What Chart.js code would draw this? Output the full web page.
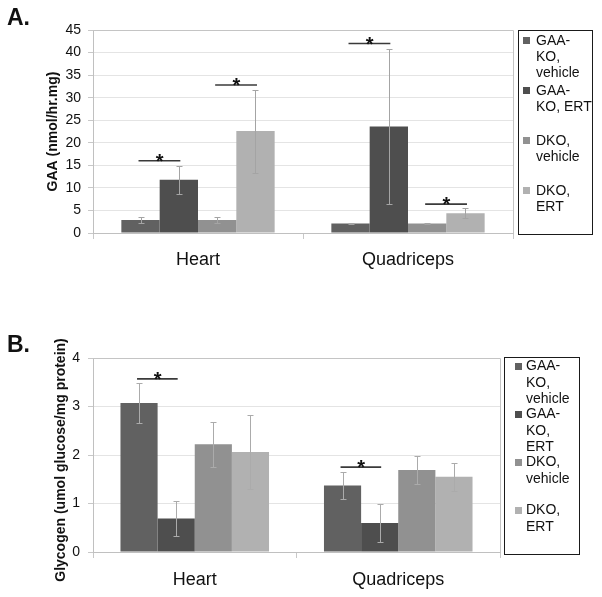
<!DOCTYPE html>
<html>
<head>
<meta charset="utf-8">
<script src="https://cdn.jsdelivr.net/npm/chart.js@4.4.1/dist/chart.umd.min.js"></script>
<style>
html,body{margin:0;padding:0;background:#fff;}
#wrap{position:relative;width:602px;height:597px;overflow:hidden;background:#fff;}
#cA{position:absolute;left:0;top:0;width:602px;height:300px;}
#cB{position:absolute;left:0;top:300px;width:602px;height:297px;}
.pl{position:absolute;font:bold 23px "Liberation Sans",Arial,sans-serif;line-height:1;color:#111;}
</style>
</head>
<body>
<div id="wrap">
<canvas id="cA" width="602" height="300"></canvas>
<canvas id="cB" width="602" height="297"></canvas>
<div class="pl" style="left:7px;top:6px;">A.</div>
<div class="pl" style="left:7px;top:333px;">B.</div>
</div>
<script>
// ---------- shared ----------
const categories = ['Heart', 'Quadriceps'];
const seriesNames = ['GAA-KO, vehicle', 'GAA-KO, ERT', 'DKO, vehicle', 'DKO, ERT'];
const seriesColors = ['#616161', '#4e4e4e', '#919191', '#b1b1b1'];

// ---------- Panel A: GAA activity ----------
const gaaKoVehicleA = [2.9, 2.1];
const gaaKoErtA     = [11.8, 23.6];
const dkoVehicleA   = [2.9, 2.1];
const dkoErtA       = [22.6, 4.4];
const errGaaKoVehicleA = [0.6, 0.2];
const errGaaKoErtA     = [3.1, 17.2];
const errDkoVehicleA   = [0.6, 0.2];
const errDkoErtA       = [9.2, 1.1];
const yMinA = 0, yMaxA = 45, yStepA = 5;
const yTitleA = 'GAA (nmol/hr.mg)';
// significance bars: category index, from series, to series, height
const sigCatA  = [0, 0, 1, 1];
const sigFromA = [0, 2, 0, 2];
const sigToA   = [1, 3, 1, 3];
const sigYA    = [16, 32.8, 42, 6.4];

// ---------- Panel B: Glycogen ----------
const gaaKoVehicleB = [3.07, 1.37];
const gaaKoErtB     = [0.69, 0.60];
const dkoVehicleB   = [2.22, 1.69];
const dkoErtB       = [2.06, 1.55];
const errGaaKoVehicleB = [0.42, 0.28];
const errGaaKoErtB     = [0.37, 0.40];
const errDkoVehicleB   = [0.46, 0.29];
const errDkoErtB       = [0.76, 0.29];
const yMinB = 0, yMaxB = 4, yStepB = 1;
const yTitleB = 'Glycogen (umol glucose/mg protein)';
const sigCatB  = [0, 1];
const sigFromB = [0, 0];
const sigToB   = [1, 1];
const sigYB    = [3.57, 1.75];

const FONT = '"Liberation Sans", Arial, Helvetica, sans-serif';
Chart.defaults.font.family = FONT;

function wrapText(ctx, text, maxW) {
  const tokens = text.split(/(?<=-)|(?= )/);
  const lines = [];
  let line = '';
  tokens.forEach(tok => {
    const test = line + tok;
    if (line && ctx.measureText(test.trim()).width > maxW) {
      lines.push(line.trim());
      line = tok.trimStart();
    } else {
      line = test;
    }
  });
  if (line) lines.push(line.trim());
  return lines;
}

const annot = {
  id: 'annot',
  afterDatasetsDraw(chart, args, o) {
    const ctx = chart.ctx, y = chart.scales.y, ca = chart.chartArea;
    ctx.save();
    // plot frame (top & right)
    ctx.strokeStyle = '#c4c4c4';
    ctx.lineWidth = 1;
    ctx.beginPath();
    ctx.moveTo(ca.left, Math.round(ca.top) + 0.5);
    ctx.lineTo(Math.round(ca.right) + 0.5, Math.round(ca.top) + 0.5);
    ctx.lineTo(Math.round(ca.right) + 0.5, ca.bottom);
    ctx.stroke();

    // error bars
    ctx.strokeStyle = o.errColor;
    ctx.lineWidth = 1;
    chart.data.datasets.forEach((ds, di) => {
      const meta = chart.getDatasetMeta(di);
      meta.data.forEach((bar, i) => {
        const v = ds.data[i], e = o.errors[di][i];
        const yt = Math.round(y.getPixelForValue(v + e)) + 0.5;
        const yb = Math.round(y.getPixelForValue(v - e)) + 0.5;
        const x = Math.round(bar.x) + 0.5;
        ctx.beginPath();
        ctx.moveTo(x, yt); ctx.lineTo(x, yb);
        ctx.moveTo(x - 3, yt); ctx.lineTo(x + 3, yt);
        ctx.moveTo(x - 3, yb); ctx.lineTo(x + 3, yb);
        ctx.stroke();
      });
    });

    // significance lines + stars
    o.sigCat.forEach((c, k) => {
      const b1 = chart.getDatasetMeta(o.sigFrom[k]).data[c];
      const b2 = chart.getDatasetMeta(o.sigTo[k]).data[c];
      const yy = y.getPixelForValue(o.sigY[k]);
      ctx.strokeStyle = '#3a3a3a';
      ctx.lineWidth = 1.6;
      ctx.beginPath();
      ctx.moveTo(b1.x - 2, yy); ctx.lineTo(b2.x + 1.5, yy);
      ctx.stroke();
      ctx.fillStyle = '#111';
      ctx.font = 'bold 20px ' + FONT;
      ctx.textAlign = 'center';
      ctx.textBaseline = 'alphabetic';
      ctx.fillText('*', (b1.x + b2.x) / 2, yy + 7);
    });

    // custom vertical axis title (if requested)
    if (o.yTitle) {
      ctx.save();
      ctx.translate(o.yTitle.x, o.yTitle.y);
      ctx.rotate(-Math.PI / 2);
      ctx.font = 'bold 14px ' + FONT;
      ctx.fillStyle = '#111';
      ctx.textAlign = 'center';
      ctx.textBaseline = 'middle';
      ctx.fillText(o.yTitle.text, 0, 0);
      ctx.restore();
    }

    // legend box
    const L = o.legend;
    const bl = Math.round(ca.right) + L.gap;
    const bt = Math.round(ca.top) + L.topAdj;
    const bb = Math.round(ca.bottom) + L.bottomAdj;
    ctx.strokeStyle = '#1a1a1a';
    ctx.lineWidth = 1;
    ctx.strokeRect(bl + 0.5, bt + 0.5, L.width, bb - bt);
    ctx.font = '14px ' + FONT;
    ctx.textAlign = 'left';
    ctx.textBaseline = 'middle';
    chart.data.datasets.forEach((ds, di) => {
      const lines = wrapText(ctx, ds.label, L.maxW);
      const y0 = ca.top + L.first + di * L.step;
      ctx.fillStyle = ds.backgroundColor;
      ctx.fillRect(bl + L.swatch, Math.round(y0 - 3.5), 7, 7);
      ctx.fillStyle = '#111';
      lines.forEach((ln, j) => ctx.fillText(ln, bl + L.text, y0 + j * L.lh));
    });
    ctx.restore();
  }
};

function makeDatasets(arrs) {
  return arrs.map((d, i) => ({
    label: seriesNames[i],
    data: d,
    backgroundColor: seriesColors[i],
    borderWidth: 0,
    categoryPercentage: 0.73,
    barPercentage: 1.0
  }));
}

function baseScales(cfg) {
  return {
    x: {
      grid: { display: true, drawOnChartArea: false, tickLength: 6, tickColor: '#c8c8c8', offset: true },
      border: { color: '#c0c0c0' },
      ticks: { padding: cfg.xPad, color: '#111', font: { size: 18 } },
      afterFit(s) { s.height = cfg.xHeight; }
    },
    y: {
      min: cfg.min, max: cfg.max,
      ticks: { stepSize: cfg.step, padding: cfg.yPad, color: '#111', font: { size: 14 } },
      grid: { color: '#e4e4e4', tickLength: 5, tickColor: '#c8c8c8' },
      border: { color: '#c0c0c0' },
      title: cfg.title ? {
        display: true, text: cfg.title, color: '#111',
        font: { size: 14, weight: 'bold' }, padding: { top: cfg.titlePad, bottom: 0 }
      } : { display: false },
      afterFit(s) { s.width = 93; }
    }
  };
}

new Chart(document.getElementById('cA'), {
  type: 'bar',
  data: {
    labels: categories,
    datasets: makeDatasets([gaaKoVehicleA, gaaKoErtA, dkoVehicleA, dkoErtA])
  },
  options: {
    responsive: false, animation: false, devicePixelRatio: 1,
    layout: { padding: { left: 0, right: 89, top: 30, bottom: 0 } },
    scales: baseScales({ min: yMinA, max: yMaxA, step: yStepA, xPad: 10, xHeight: 67, yPad: 7, title: yTitleA, titlePad: 44.5 }),
    plugins: {
      legend: { display: false }, tooltip: { enabled: false },
      annot: {
        errColor: '#a4a4a4',
        errors: [errGaaKoVehicleA, errGaaKoErtA, errDkoVehicleA, errDkoErtA],
        sigCat: sigCatA, sigFrom: sigFromA, sigTo: sigToA, sigY: sigYA,
        legend: { gap: 5, topAdj: 0, bottomAdj: 1, width: 74, swatch: 5, text: 18, maxW: 58, first: 10.7, step: 50, lh: 16.4 }
      }
    }
  },
  plugins: [annot]
});

new Chart(document.getElementById('cB'), {
  type: 'bar',
  data: {
    labels: categories,
    datasets: makeDatasets([gaaKoVehicleB, gaaKoErtB, dkoVehicleB, dkoErtB])
  },
  options: {
    responsive: false, animation: false, devicePixelRatio: 1,
    layout: { padding: { left: 0, right: 102, top: 58, bottom: 0 } },
    scales: baseScales({ min: yMinB, max: yMaxB, step: yStepB, xPad: 11, xHeight: 45, yPad: 8, title: null }),
    plugins: {
      legend: { display: false }, tooltip: { enabled: false },
      annot: {
        errColor: '#ababab',
        errors: [errGaaKoVehicleB, errGaaKoErtB, errDkoVehicleB, errDkoErtB],
        sigCat: sigCatB, sigFrom: sigFromB, sigTo: sigToB, sigY: sigYB,
        yTitle: { text: yTitleB, x: 61, y: 160 },
        legend: { gap: 4, topAdj: -1, bottomAdj: 2, width: 75, swatch: 11, text: 22, maxW: 50, first: 8.4, step: 48, lh: 16.4 }
      }
    }
  },
  plugins: [annot]
});
</script>
</body>
</html>
